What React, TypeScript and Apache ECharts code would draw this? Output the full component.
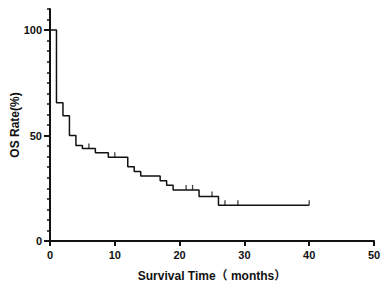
import React, { useEffect, useRef } from "react";
import * as echarts from "echarts";

const times = [0, 1, 2, 3, 4, 5, 7, 9, 12, 13, 14, 17, 18, 19, 23, 26, 40];
const survival = [100, 65.6, 59.4, 50, 45.3, 43.8, 41.8, 39.7, 35.2, 33.0, 30.8, 28.6, 26.4, 24.2, 21.1, 16.9, 16.9];
const censorTimes = [6, 10, 21, 22, 25, 27, 29, 40];
const xTicks = [0, 10, 20, 30, 40, 50];
const yLabels = [0, 50, 100];

function survivalAt(t: number): number {
  let v = survival[0];
  for (let i = 0; i < times.length; i++) {
    if (times[i] <= t) v = survival[i];
  }
  return v;
}

const FONT = "'Liberation Sans', Arial, 'Noto Sans CJK SC', sans-serif";

export default function App() {
  const ref = useRef<HTMLDivElement>(null);
  useEffect(() => {
    if (!ref.current) return;
    const chart = echarts.init(ref.current, undefined, { renderer: "svg" });
    const lineData = times.map((t, i) => [t, survival[i]]);
    const censorData = censorTimes.map((t) => [t, survivalAt(t)]);
    chart.setOption({
      animation: false,
      backgroundColor: "#ffffff",
      grid: { left: 50, right: 14, top: 9, bottom: 44, containLabel: false },
      xAxis: {
        type: "value",
        min: xTicks[0],
        max: xTicks[xTicks.length - 1],
        interval: 10,
        name: "Survival Time（ months）",
        nameLocation: "middle",
        nameGap: 29,
        nameTextStyle: { fontFamily: FONT, fontWeight: "bold", fontSize: 12, color: "#111" },
        axisLine: { show: true, lineStyle: { color: "#111", width: 2 } },
        axisTick: { show: true, length: 5, lineStyle: { color: "#111", width: 2 } },
        axisLabel: { fontFamily: FONT, fontWeight: "bold", fontSize: 11, color: "#111", margin: 9 },
        splitLine: { show: false },
      },
      yAxis: [
        {
          type: "value",
          min: 0,
          max: 110,
          interval: 5,
          position: "left",
          name: "OS Rate(%)",
          nameLocation: "middle",
          nameGap: 29,
          nameTextStyle: { fontFamily: FONT, fontWeight: "bold", fontSize: 12, color: "#111" },
          axisLine: { show: true, lineStyle: { color: "#111", width: 2 } },
          axisTick: { show: true, length: 3, lineStyle: { color: "#111", width: 1.5 } },
          axisLabel: { show: false },
          splitLine: { show: false },
        },
        {
          type: "value",
          min: 0,
          max: 110,
          interval: 50,
          position: "left",
          axisLine: { show: false },
          axisTick: { show: true, length: 6, customValues: yLabels, lineStyle: { color: "#111", width: 2 } },
          axisLabel: {
            show: true,
            customValues: yLabels,
            fontFamily: FONT,
            fontWeight: "bold",
            fontSize: 11,
            color: "#111",
            margin: 8,
          },
          splitLine: { show: false },
        },
      ],
      series: [
        {
          type: "line",
          data: lineData,
          step: "end",
          showSymbol: false,
          symbol: "none",
          lineStyle: { color: "#111", width: 1.5 },
          z: 3,
        },
        {
          type: "scatter",
          data: censorData,
          symbol: "rect",
          symbolSize: [1.3, 5],
          symbolOffset: [0, -2.5],
          itemStyle: { color: "#111" },
          z: 4,
        },
      ],
    });
    return () => chart.dispose();
  }, []);
  return (
    <div
      ref={ref}
      style={{ position: "fixed", left: 0, top: 0, width: 388, height: 287, background: "#fff" }}
    />
  );
}
